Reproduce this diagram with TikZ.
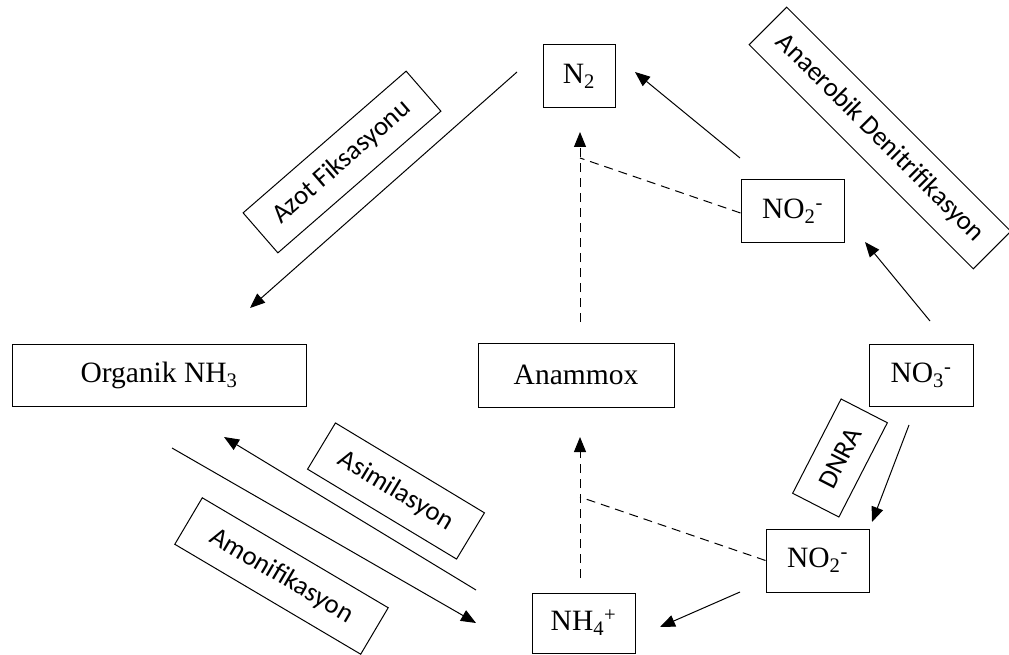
\documentclass[tikz,border=0pt]{standalone}
\usepackage{fontspec}
\setmainfont{Liberation Serif}
\newfontfamily\lblfont{Carlito}
\usetikzlibrary{arrows.meta}
\tikzset{
  box/.style={draw, line width=1pt, inner sep=0pt, font=\fontsize{29.5}{31}\selectfont},
  lbl/.style={draw, line width=1pt, inner sep=0pt, minimum height=53pt, font=\lblfont\fontsize{27}{29}\selectfont},
  conn/.style={line width=1pt, -{Triangle[length=15pt,width=12pt]}},
  dconn/.style={conn, dash pattern=on 9pt off 6pt},
  dline/.style={line width=1pt, dash pattern=on 9pt off 6pt}
}
\begin{document}
\begin{tikzpicture}[x=1pt,y=-1pt]
\useasboundingbox (0,0) rectangle (1009,655);
% boxes
\node[box, minimum width=72pt, minimum height=63pt] (n2) at (579,76.5) {N\textsubscript{2}};
\node[box, minimum width=103pt, minimum height=62pt] (no2u) at (792.5,211) {NO\textsubscript{2}\textsuperscript{-}};
\node[box, minimum width=294pt, minimum height=62pt] (org) at (159,375) {Organik NH\textsubscript{3}};
\node[box, minimum width=196pt, minimum height=64pt] (anx) at (576,375) {Anammox};
\node[box, minimum width=104pt, minimum height=62pt] (no3) at (921,375) {NO\textsubscript{3}\textsuperscript{-}};
\node[box, minimum width=103pt, minimum height=63pt] (no2l) at (817.5,560.5) {NO\textsubscript{2}\textsuperscript{-}};
\node[box, minimum width=103pt, minimum height=60pt] (nh4) at (583.5,623) {NH\textsubscript{4}\textsuperscript{+}};
% rotated labels
\node[lbl, minimum width=216pt, rotate=41] (azot) at (342,162) {Azot Fiksasyonu};
\node[lbl, minimum width=317pt, rotate=-45] (anae) at (880,138) {Anaerobik Denitrifikasyon};
\node[lbl, minimum width=174pt, minimum height=54pt, rotate=-31.1] (asim) at (396,491) {Asimilasyon};
\node[lbl, minimum width=216pt, minimum height=54pt, rotate=-30.6] (amon) at (281.5,576) {Amonifikasyon};
\node[lbl, minimum width=106pt, minimum height=52pt, rotate=62.8] (dnra) at (840,458) {DNRA};
% coordinates
\coordinate (azA) at (517,72);
\coordinate (azB) at (250,308);
\coordinate (n2A) at (740,158);
\coordinate (n2B) at (635,72);
\coordinate (no3A) at (930,321);
\coordinate (no3B) at (865,242);
\coordinate (axA) at (580,322);
\coordinate (axB) at (580,132);
\coordinate (j1) at (580,158);
\coordinate (nhA) at (580,578);
\coordinate (nhB) at (580,437);
\coordinate (j2) at (580,497);
\coordinate (dnA) at (909,425);
\coordinate (dnB) at (872,522);
\coordinate (n4A) at (740,592);
\coordinate (n4B) at (660,627);
\coordinate (asA) at (476,590);
\coordinate (asB) at (224,437);
\coordinate (amA) at (172,448);
\coordinate (amB) at (476,623);
% connectors
\draw[conn] (azA) -- (azB);
\draw[conn] (n2A) -- (n2B);
\draw[conn] (no3A) -- (no3B);
\draw[dconn] (axA) -- (axB);
\draw[dline] (no2u.west |- 0,213) -- (j1);
\draw[dconn] (nhA) -- (nhB);
\draw[dline] (no2l.west) -- (j2);
\draw[conn] (dnA) -- (dnB);
\draw[conn] (n4A) -- (n4B);
\draw[conn] (asA) -- (asB);
\draw[conn] (amA) -- (amB);
\end{tikzpicture}
\end{document}
